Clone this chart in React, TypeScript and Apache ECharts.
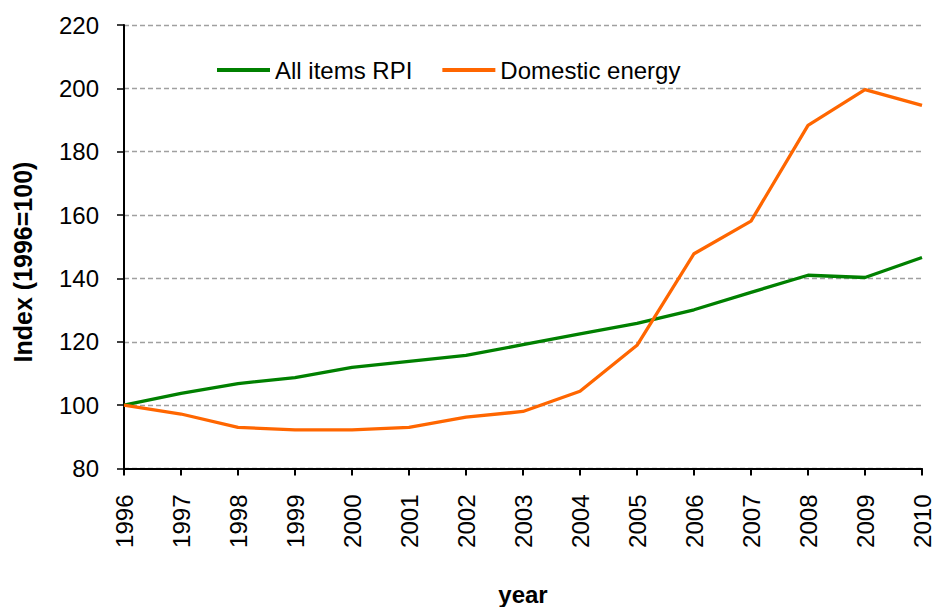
import React, { useEffect, useRef } from "react";
import * as echarts from "echarts";

const years = ["1996", "1997", "1998", "1999", "2000", "2001", "2002", "2003", "2004", "2005", "2006", "2007", "2008", "2009", "2010"];
const allItemsRPI = [100, 103.7, 106.8, 108.7, 111.9, 113.8, 115.7, 119.1, 122.5, 125.8, 130.1, 135.6, 141.0, 140.3, 146.6];
const domesticEnergy = [100, 97.2, 93.0, 92.2, 92.2, 93.0, 96.2, 98.0, 104.4, 118.9, 147.8, 158.1, 188.3, 199.6, 194.6];
const yTicks = { min: 80, max: 220, interval: 20 };
const yAxisTitle = "Index (1996=100)";
const xAxisTitle = "year";

const FONT = "'Liberation Sans', Arial, sans-serif";

export default function App() {
  const ref = useRef<HTMLDivElement>(null);
  useEffect(() => {
    if (!ref.current) return;
    const chart = echarts.init(ref.current, null, { renderer: "svg" });
    chart.setOption({
      animation: false,
      backgroundColor: "#ffffff",
      textStyle: { fontFamily: FONT, color: "#000" },
      grid: { left: 124, right: 16, top: 25, bottom: 138.5, containLabel: false, outerBoundsMode: "none" },
      legend: {
        left: 217,
        top: 58,
        padding: 0,
        itemWidth: 53,
        itemHeight: 4,
        itemGap: 30,
        icon: "rect",
        textStyle: { fontFamily: FONT, fontSize: 24, color: "#000" },
        data: ["All items RPI", "Domestic energy"],
      },
      graphic: [
        {
          type: "text",
          x: 23,
          y: 262,
          rotation: Math.PI / 2,
          style: {
            text: yAxisTitle,
            font: `bold 25px ${FONT}`,
            fill: "#000",
            textAlign: "center",
            textVerticalAlign: "middle",
          },
        },
      ],
      xAxis: {
        type: "category",
        data: years,
        boundaryGap: false,
        name: xAxisTitle,
        nameLocation: "middle",
        nameGap: 114,
        nameTextStyle: { fontFamily: FONT, fontSize: 24, fontWeight: "bold", color: "#000" },
        axisLine: { lineStyle: { color: "#000", width: 2 } },
        axisTick: { show: true, length: 7, lineStyle: { color: "#000", width: 2 }, alignWithLabel: true },
        axisLabel: { rotate: 90, margin: 26, fontFamily: FONT, fontSize: 24, color: "#000", interval: 0 },
        splitLine: { show: false },
      },
      yAxis: {
        type: "value",
        min: yTicks.min,
        max: yTicks.max,
        interval: yTicks.interval,
        axisLine: { show: true, lineStyle: { color: "#000", width: 2 } },
        axisTick: { show: true, length: 7, lineStyle: { color: "#000", width: 1.5 } },
        axisLabel: { margin: 25, fontFamily: FONT, fontSize: 24, color: "#000" },
        splitLine: { show: true, lineStyle: { color: "#a0a0a0", width: 1.3, type: [5, 3] } },
      },
      series: [
        {
          name: "All items RPI",
          type: "line",
          data: allItemsRPI,
          symbol: "none",
          color: "#008000",
          lineStyle: { color: "#008000", width: 3.3 },
        },
        {
          name: "Domestic energy",
          type: "line",
          data: domesticEnergy,
          symbol: "none",
          color: "#ff6600",
          lineStyle: { color: "#ff6600", width: 3.3 },
        },
      ],
    });
    return () => chart.dispose();
  }, []);
  return <div ref={ref} style={{ width: 938, height: 607, position: "absolute", left: 0, top: 0 }} />;
}
